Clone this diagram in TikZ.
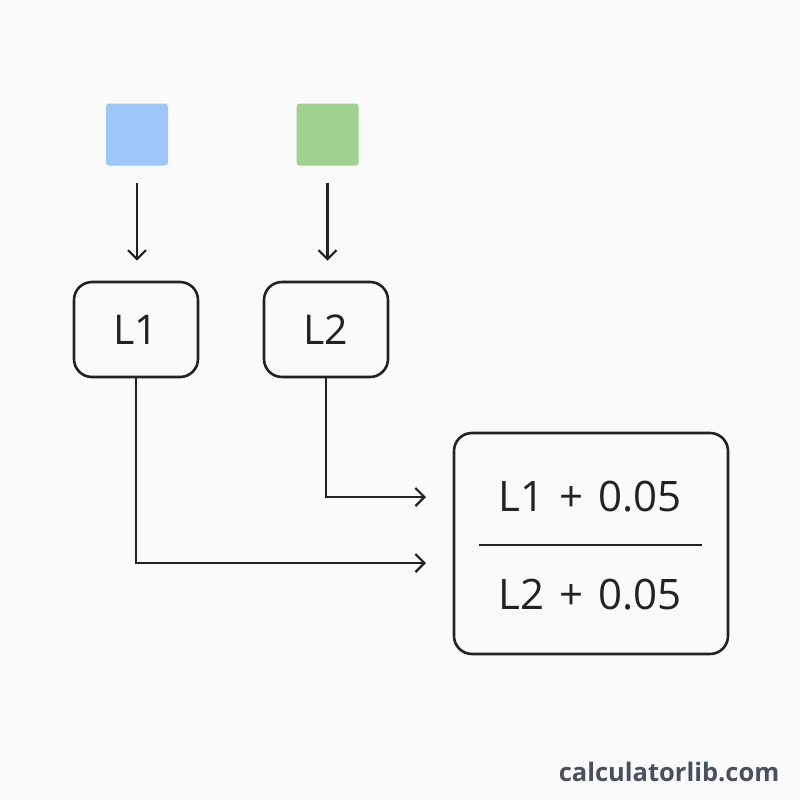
\documentclass[tikz,border=0pt]{standalone}
\usepackage{fontspec}
\setmainfont{Open Sans}
\usetikzlibrary{arrows.meta}
\definecolor{swatchblue}{HTML}{9DC7F8}
\definecolor{swatchgreen}{HTML}{A0D18E}
\definecolor{inkgray}{HTML}{222222}
\definecolor{markgray}{HTML}{4A5060}
\newcommand{\plusgap}{\hspace{0.35em}+\hspace{0.35em}}
\begin{document}
\begin{tikzpicture}[x=1pt, y=-1pt,
    swatch/.style={
        rectangle,
        rounded corners=3pt,
        minimum width=62pt,
        minimum height=62pt,
        inner sep=0pt},
    box/.style={
        rectangle,
        rounded corners=18pt,
        draw=inkgray, line width=2.6pt,
        minimum width=124pt,
        minimum height=95pt,
        text=inkgray,
        font=\fontsize{41}{46}\selectfont},
    arrow/.style={
        draw=inkgray,
        line width=2.2pt,
        ->,
        >={Straight Barb[length=9pt,width=18pt]}}
    ]

    \fill[white!98!black] (0,0) rectangle (800,800);
    \useasboundingbox (0,0) rectangle (800,800);

    \node (blue) [swatch, fill=swatchblue] at (137,134.5) {};
    \node (green) [swatch, fill=swatchgreen] at (327.5,134.5) {};
    \node (lone) [box] at (136,329.5) {L1};
    \node (ltwo) [box] at (326,329.5) {L2};
    \node (ratio) [box, minimum width=274pt, minimum height=221pt] at (591,543.5) {};
    \node (num) [text=inkgray, font=\fontsize{42}{46}\selectfont] at (590,497) {L1\plusgap0.05};
    \node (den) [text=inkgray, font=\fontsize{42}{46}\selectfont] at (590,595) {L2\plusgap0.05};
    \coordinate (barl) at (479,545);
    \coordinate (barr) at (702,545);
    \coordinate (tipone) at (426,563);
    \coordinate (tiptwo) at (426,497);

    \draw [arrow, shorten <=17pt, shorten >=20pt] (blue.south) -- (blue.south |- lone.north);
    \draw [arrow, shorten <=17pt, shorten >=20pt] (green.south) -- (green.south |- ltwo.north);
    \draw [arrow] (lone.south) |- (tipone);
    \draw [arrow] (ltwo.south) |- (tiptwo);
    \draw [draw=inkgray, line width=1.8pt] (barl) -- (barr);

    \node (site) [anchor=east, text=markgray, font=\fontsize{25.5}{30}\selectfont\bfseries] at (783,772) {calculatorlib.com};

    \end{tikzpicture}
\end{document}
